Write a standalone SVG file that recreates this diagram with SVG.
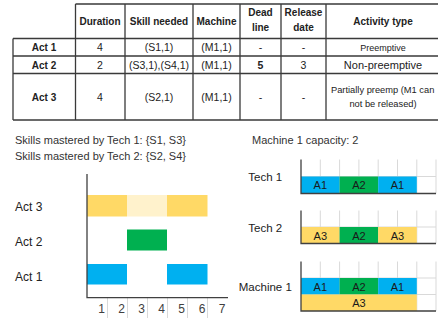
<svg xmlns="http://www.w3.org/2000/svg" width="438" height="322" viewBox="0 0 438 322">
<style>
text{font-family:"Liberation Sans",Arial,sans-serif;fill:#222}
.h{font-size:10px;font-weight:bold;text-anchor:middle}
.b{font-size:10.5px;text-anchor:middle}
.rl{font-size:10px;font-weight:bold;text-anchor:middle}
.tl{stroke:#3a3a3a;stroke-width:1.3;fill:none}
.note{font-size:11px;fill:#333}
.lab{font-size:12px;fill:#222}
.ax{stroke:#404040;stroke-width:1.3;fill:none}
.tick{stroke:#d9d9d9;stroke-width:1}
.num{font-size:12px;fill:#404040;text-anchor:end}
.grid{stroke:#d9d9d9;stroke-width:1;fill:none}
.rlab{font-size:11.5px;text-anchor:middle;fill:#222}
.bl{font-size:11px;text-anchor:middle;fill:#1a1a1a}
.y{fill:#FFD966}.ly{fill:#FFF2CC}.g{fill:#00B050}.c{fill:#00B0F0}
</style>

<g id="table">
  <path class="tl" d="M75.5 4H438M13 38.5H438M13 56H438M13 73.5H438M13 120H438M13 38.5V120M75.5 4V120M125 4V120M193 4V120M240 4V120M281 4V120M326 4V120"/>
  <text class="h" x="100" y="25">Duration</text>
  <text class="h" x="159" y="25">Skill needed</text>
  <text class="h" x="216.5" y="25">Machine</text>
  <text class="h" x="260.5" y="16">Dead</text>
  <text class="h" x="260.5" y="31">line</text>
  <text class="h" x="303.5" y="16">Release</text>
  <text class="h" x="303.5" y="31">date</text>
  <text class="h" x="383" y="25">Activity type</text>

  <text class="rl" x="44" y="51">Act 1</text>
  <text class="b" x="100" y="51">4</text>
  <text class="b" x="159" y="51">(S1,1)</text>
  <text class="b" x="216.5" y="51">(M1,1)</text>
  <text class="b" x="260.5" y="51">-</text>
  <text class="b" x="303.5" y="51">-</text>
  <text class="b" x="383" y="51" style="font-size:9px">Preemptive</text>

  <text class="rl" x="44" y="68.5">Act 2</text>
  <text class="b" x="100" y="68.5">2</text>
  <text class="b" x="159" y="68.5">(S3,1),(S4,1)</text>
  <text class="b" x="216.5" y="68.5">(M1,1)</text>
  <text class="b" x="260.5" y="68.5" style="font-weight:bold">5</text>
  <text class="b" x="303.5" y="68.5">3</text>
  <text class="b" x="383" y="68.5" style="font-size:11px">Non-preemptive</text>

  <text class="rl" x="44" y="100.5">Act 3</text>
  <text class="b" x="100" y="100.5">4</text>
  <text class="b" x="159" y="100.5">(S2,1)</text>
  <text class="b" x="216.5" y="100.5">(M1,1)</text>
  <text class="b" x="260.5" y="100.5">-</text>
  <text class="b" x="303.5" y="100.5">-</text>
  <text x="331" y="93" style="font-size:9.3px">Partially preemp (M1 can</text>
  <text class="b" x="383" y="107" style="font-size:9.3px">not be released)</text>
</g>

<g id="notes">
  <text class="note" x="15" y="144">Skills mastered by Tech 1: {S1, S3}</text>
  <text class="note" x="15" y="159.5">Skills mastered by Tech 2: {S2, S4}</text>
  <text class="note" x="252" y="144">Machine 1 capacity: 2</text>
</g>

<g id="gantt-activities">
  <g id="act3">
    <text class="lab" x="15" y="211">Act 3</text>
    <rect class="y" x="87" y="195" width="40" height="21.5"/>
    <rect class="ly" x="127" y="195" width="40" height="21.5"/>
    <rect class="y" x="167" y="195" width="40.5" height="21.5"/>
  </g>
  <g id="act2">
    <text class="lab" x="15" y="245.5">Act 2</text>
    <rect class="g" x="127" y="229.5" width="40" height="21"/>
  </g>
  <g id="act1">
    <text class="lab" x="15" y="280.5">Act 1</text>
    <rect class="c" x="87" y="264" width="40" height="20.5"/>
    <rect class="c" x="167" y="264" width="40.5" height="20.5"/>
  </g>
  <path class="tick" d="M107.5 298V318M127.5 298V318M147.5 298V318M167.5 298V318M187.5 298V318M207.5 298V318"/>
  <path class="ax" d="M87 174V297.7H228"/>
  <text class="num" x="105" y="312.5">1</text>
  <text class="num" x="125" y="312.5">2</text>
  <text class="num" x="145" y="312.5">3</text>
  <text class="num" x="165" y="312.5">4</text>
  <text class="num" x="185" y="312.5">5</text>
  <text class="num" x="205.5" y="312.5">6</text>
  <text class="num" x="225.5" y="312.5">7</text>
</g>

<g id="tech1">
  <text class="rlab" x="265.3" y="181">Tech 1</text>
  <path class="grid" d="M320.3 159.5V193.5M339.6 159.5V193.5M358.9 159.5V193.5M378.2 159.5V193.5M397.5 159.5V193.5M416.8 159.5V193.5M436 159.5V193.5M301 176.5H436"/>
  <rect class="c" x="301" y="176.5" width="38.6" height="17"/>
  <rect class="g" x="339.6" y="176.5" width="38.6" height="17"/>
  <rect class="c" x="378.2" y="176.5" width="38.6" height="17"/>
  <text class="bl" x="320.3" y="189">A1</text>
  <text class="bl" x="358.9" y="189">A2</text>
  <text class="bl" x="397.5" y="189">A1</text>
  <path class="ax" d="M301 159.5V193.5H436"/>
</g>

<g id="tech2">
  <text class="rlab" x="265.3" y="231.5">Tech 2</text>
  <path class="grid" d="M320.3 210.5V243.5M339.6 210.5V243.5M358.9 210.5V243.5M378.2 210.5V243.5M397.5 210.5V243.5M416.8 210.5V243.5M436 210.5V243.5M301 227H436"/>
  <rect class="y" x="301" y="227" width="38.6" height="16.5"/>
  <rect class="g" x="339.6" y="227" width="38.6" height="16.5"/>
  <rect class="y" x="378.2" y="227" width="38.6" height="16.5"/>
  <text class="bl" x="320.3" y="239.5">A3</text>
  <text class="bl" x="358.9" y="239.5">A2</text>
  <text class="bl" x="397.5" y="239.5">A3</text>
  <path class="ax" d="M301 210.5V243.5H436"/>
</g>

<g id="machine1">
  <text class="rlab" x="265.3" y="290.5">Machine 1</text>
  <path class="grid" d="M320.3 261.5V311M339.6 261.5V311M358.9 261.5V311M378.2 261.5V311M397.5 261.5V311M416.8 261.5V311M436 261.5V311M301 278H436M301 294.5H436"/>
  <rect class="c" x="301" y="278" width="38.6" height="16.5"/>
  <rect class="g" x="339.6" y="278" width="38.6" height="16.5"/>
  <rect class="c" x="378.2" y="278" width="38.6" height="16.5"/>
  <rect class="y" x="301" y="294.5" width="115.8" height="16.5"/>
  <text class="bl" x="320.3" y="290.5">A1</text>
  <text class="bl" x="358.9" y="290.5">A2</text>
  <text class="bl" x="397.5" y="290.5">A1</text>
  <text class="bl" x="358.9" y="307">A3</text>
  <path class="ax" d="M301 261.5V311H436"/>
</g>
</svg>
